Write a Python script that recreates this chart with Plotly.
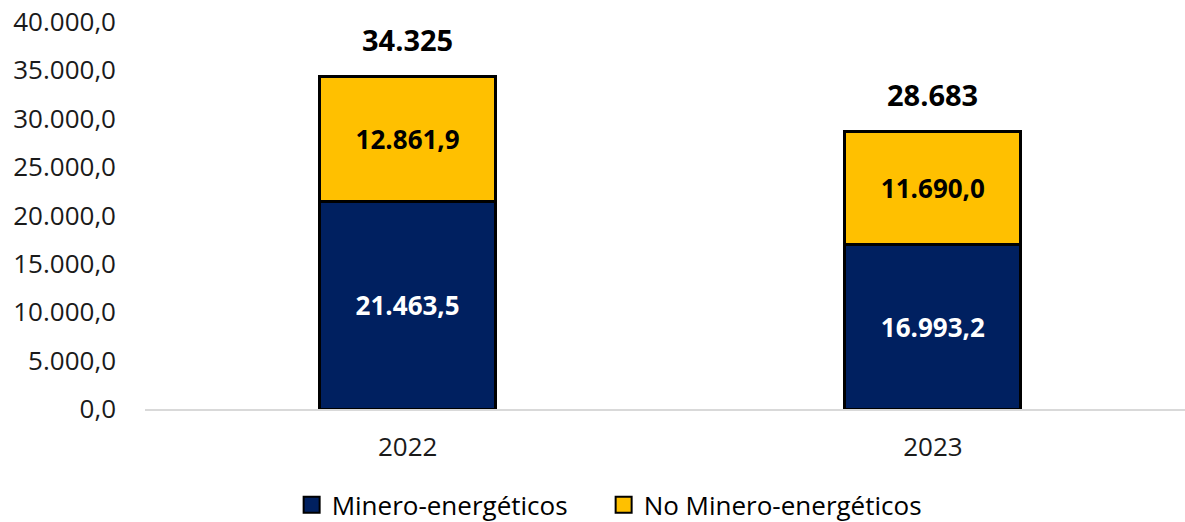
import plotly.graph_objects as go

years = ["2022", "2023"]
minero = [21463.5, 16993.2]
no_minero = [12861.9, 11690.0]
totals = [a + b for a, b in zip(minero, no_minero)]
series_names = ["Minero-energéticos", "No Minero-energéticos"]
colors = ["#002060", "#FFC000"]

FONT = "Open Sans"

fig = go.Figure()
fig.add_trace(go.Bar(
    x=years, y=minero, name=series_names[0], showlegend=False,
    marker=dict(color=colors[0], line=dict(color="black", width=3)),
    texttemplate="%{y:,.1f}", textposition="inside", insidetextanchor="middle",
    textfont=dict(color="white", size=26, family=FONT, weight="bold"),
    width=0.335,
))
fig.add_trace(go.Bar(
    x=years, y=no_minero, name=series_names[1], showlegend=False,
    marker=dict(color=colors[1], line=dict(color="black", width=3)),
    texttemplate="%{y:,.1f}", textposition="inside", insidetextanchor="middle",
    textfont=dict(color="black", size=26, family=FONT, weight="bold"),
    width=0.335,
))

# legend-only entries with larger square swatches
for name, col, leg in zip(series_names, colors, ["legend", "legend2"]):
    fig.add_trace(go.Scatter(
        x=[None], y=[None], mode="markers", name=name, legend=leg, showlegend=True,
        marker=dict(symbol="square", size=17, color=col, line=dict(color="black", width=2)),
    ))

for i, tot in enumerate(totals):
    fig.add_annotation(
        x=i, y=tot, text=f"{tot:,.0f}".replace(",", "."), showarrow=False,
        yanchor="middle", yshift=37,
        font=dict(color="black", size=29, family=FONT, weight="bold"),
    )

leg_common = dict(orientation="h", xanchor="left", yanchor="middle",
                  yref="container", y=0.033, itemsizing="trace",
                  font=dict(size=26, family=FONT, color="black"), bgcolor="rgba(0,0,0,0)")

fig.update_layout(
    barmode="stack",
    showlegend=True,
    width=1185, height=522,
    margin=dict(l=145, r=0, t=22, b=113),
    paper_bgcolor="white", plot_bgcolor="white",
    separators=",.",
    font=dict(family=FONT, size=26, color="#1a1a1a"),
    legend=dict(x=0.141, **leg_common),
    legend2=dict(x=0.441, **leg_common),
    xaxis=dict(type="category", range=[-0.5, 1.48], showline=True, linecolor="#d9d9d9",
               linewidth=2, ticks="", tickfont=dict(size=26), ticklabelstandoff=14,
               automargin=False),
    yaxis=dict(range=[0, 40000], dtick=5000, tickformat=",.1f", showgrid=False,
               zeroline=False, showline=False, ticks="", tickfont=dict(size=26),
               ticklabelstandoff=28, automargin=False),
)

fig.write_html("out.html", config={"displayModeBar": False},
               post_script="document.body.style.margin='0';")
